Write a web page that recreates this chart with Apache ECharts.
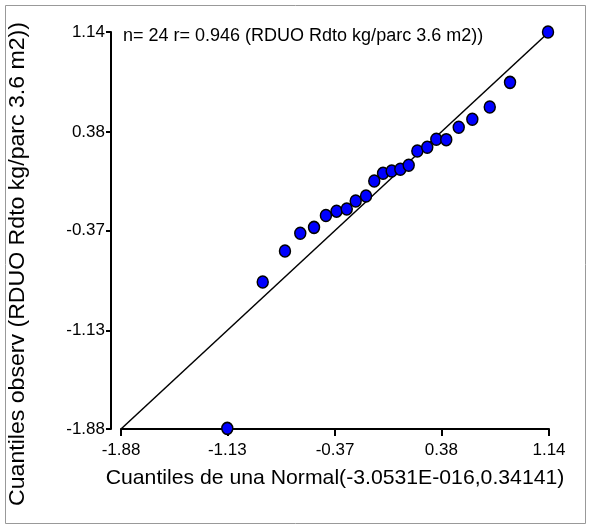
<!DOCTYPE html>
<html>
<head>
<meta charset="utf-8">
<script src="https://cdn.jsdelivr.net/npm/echarts@6/dist/echarts.min.js"></script>
<style>html,body{margin:0;padding:0;background:#fff}#c{width:592px;height:530px}</style>
</head>
<body>
<div id="c"></div>
<script>
var xQuantiles = [-1.13, -0.88, -0.723, -0.615, -0.518, -0.434, -0.359, -0.287, -0.224, -0.151, -0.093, -0.031, 0.030, 0.091, 0.150, 0.211, 0.281, 0.345, 0.415, 0.503, 0.599, 0.722, 0.865, 1.133];
var yObserved = [-1.875, -0.762, -0.526, -0.391, -0.346, -0.256, -0.223, -0.206, -0.146, -0.108, 0.007, 0.065, 0.083, 0.096, 0.126, 0.235, 0.263, 0.324, 0.321, 0.415, 0.476, 0.569, 0.757, 1.14];
var tickValues = [-1.88, -1.13, -0.37, 0.38, 1.14];
var refLine = [[-1.88, -1.88], [1.14, 1.14]];
var titleText = 'n= 24 r= 0.946 (RDUO Rdto kg/parc 3.6 m2))';
var xName = 'Cuantiles de una Normal(-3.0531E-016,0.34141)';
var yName = 'Cuantiles observ (RDUO Rdto kg/parc 3.6 m2))';

var FONT = 'Liberation Sans, Arial, sans-serif';
var pts = xQuantiles.map(function (x, i) { return [x, yObserved[i]]; });
var chart = echarts.init(document.getElementById('c'));
var axisCommon = {
  type: 'value', min: -1.88, max: 1.14,
  splitLine: { show: false },
  axisLine: { show: true, onZero: false, lineStyle: { color: '#000', width: 2 } },
  axisTick: { show: true, customValues: tickValues, length: 7, lineStyle: { color: '#000', width: 2 } },
  axisLabel: { customValues: tickValues, color: '#000', fontSize: 17, fontFamily: FONT,
    formatter: function (v) { return v.toFixed(2); } }
};
chart.setOption({
  animation: false,
  backgroundColor: '#fff',
  grid: { left: 121, right: 43, top: 32, bottom: 101 },
  xAxis: Object.assign({}, axisCommon, { axisLabel: Object.assign({}, axisCommon.axisLabel, { margin: 13 }) }),
  yAxis: Object.assign({}, axisCommon, { offset: 10, axisTick: Object.assign({}, axisCommon.axisTick, { length: 5 }),
    axisLabel: Object.assign({}, axisCommon.axisLabel, { margin: 6 }) }),
  graphic: [
    { type: 'rect', shape: { x: 5.5, y: 5.5, width: 580, height: 518 }, style: { fill: 'none', stroke: '#999', lineWidth: 1 }, silent: true },
    { type: 'text', x: 123, y: 36, style: { text: titleText, font: '18px ' + FONT, fill: '#000', verticalAlign: 'middle' } },
    { type: 'text', x: 335, y: 478, scaleX: 1.01, style: { text: xName, font: '21px ' + FONT, fill: '#000', align: 'center', verticalAlign: 'middle' } },
    { type: 'text', x: 18, y: 264, rotation: Math.PI / 2, scaleX: 1.05, style: { text: yName, font: '22px ' + FONT, fill: '#000', align: 'center', verticalAlign: 'middle' } }
  ],
  series: [
    { type: 'line', data: refLine, symbol: 'none', lineStyle: { color: '#000', width: 1.5 }, z: 2 },
    { type: 'scatter', data: pts, symbol: 'circle', symbolSize: [11, 12],
      itemStyle: { color: '#0000ff', borderColor: '#000', borderWidth: 1.5, opacity: 1 }, z: 3 }
  ]
});
</script>
</body>
</html>
